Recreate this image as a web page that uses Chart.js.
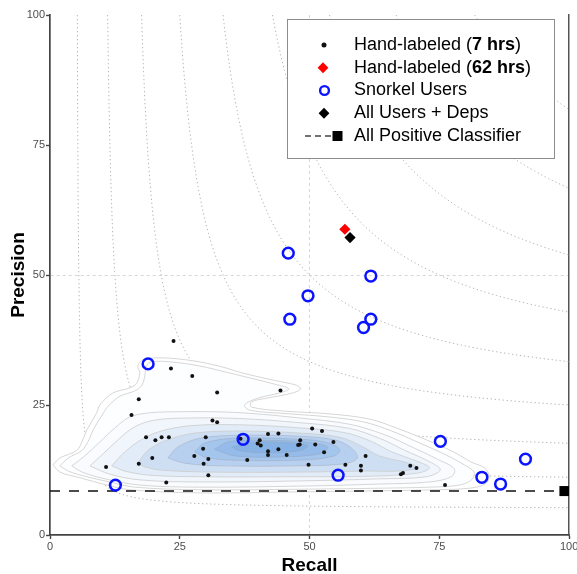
<!DOCTYPE html>
<html><head><meta charset="utf-8">
<script src="https://cdn.jsdelivr.net/npm/chart.js@4.4.1/dist/chart.umd.min.js"></script>
<style>html,body{margin:0;padding:0;background:#fff;}#wrap{width:577px;height:574px;}</style>
</head><body><div id="wrap"><canvas id="c" width="577" height="574"></canvas></div>
<script>
// ---- data (recall, precision) ----
const handLabeled7 = [[23.8,37.3],[23.3,32.0],[27.4,30.6],[17.1,26.1],[15.7,23.1],[32.2,27.4],[44.4,27.8],[31.3,22.0],[32.2,21.7],[18.5,18.8],[20.3,18.2],[21.5,18.8],[22.9,18.8],[30.0,18.8],[29.5,16.6],[27.8,15.2],[19.7,14.8],[30.5,14.6],[29.6,13.7],[17.1,13.7],[10.8,13.1],[30.5,11.5],[22.4,10.1],[36.7,18.5],[40.4,18.2],[40.0,17.6],[40.6,17.2],[42.0,19.4],[44.0,19.5],[42.0,16.1],[42.0,15.4],[44.0,16.5],[45.6,15.4],[38.0,14.4],[48.2,18.2],[48.1,17.4],[47.8,17.3],[50.5,20.5],[52.4,20.0],[51.1,17.4],[54.6,17.9],[52.8,15.9],[49.8,13.5],[56.9,13.5],[59.9,13.3],[59.9,12.4],[60.8,15.2],[69.4,13.3],[70.6,12.9],[68.0,11.9],[67.6,11.7],[76.1,9.6]];
const handLabeled62 = [[56.8,58.8]];
const snorkelUsers = [[45.9,54.2],[49.7,46.0],[46.2,41.5],[61.8,49.8],[61.8,41.5],[60.4,39.9],[18.9,32.9],[37.2,18.4],[75.2,18.0],[12.6,9.6],[55.5,11.5],[83.2,11.1],[86.8,9.8],[91.6,14.6]];
const allUsersDeps = [[57.8,57.2]];
const allPositiveRecall = 99.1;
const allPositivePrecision = 8.45;
const f1Levels = [10,20,30,40,50,60,70,80,90];
const xTicks = [0,25,50,75,100];
const yTicks = [0,25,50,75,100];
const legendLabels = [
  [['Hand-labeled (',false],['7 hrs',true],[')',false]],
  [['Hand-labeled (',false],['62 hrs',true],[')',false]],
  [['Snorkel Users',false]],
  [['All Users + Deps',false]],
  [['All Positive Classifier',false]]
];
// density contours of the hand-labeled points, outer to inner
const contour1 = [[0.6,13.5],[1.9,14.8],[5.2,16.3],[6.3,18.3],[7.1,20.2],[9.0,23.5],[9.6,25.0],[12.1,27.3],[15.4,28.3],[16.7,29.2],[17.3,31.2],[16.9,32.5],[17.9,33.7],[19.2,34.0],[23.1,34.0],[28.8,33.3],[34.0,32.1],[36.5,31.3],[42.9,29.8],[47.5,28.8],[48.3,28.1],[46.7,27.3],[41.7,26.3],[38.8,25.6],[38.8,24.6],[45.6,23.8],[53.8,23.3],[61.5,22.3],[66.7,20.6],[72.5,18.3],[77.7,16.0],[81.2,14.0],[83.7,12.9],[84.6,11.3],[83.8,9.8],[80.8,9.0],[74.4,8.7],[63.5,8.5],[48.1,8.3],[28.8,8.1],[15.4,8.7],[11.0,9.6],[5.8,11.0],[1.9,12.1],[0.6,13.5]];
const contour2 = [[1.9,13.3],[3.5,14.8],[6.2,16.3],[7.5,18.3],[8.3,20.2],[10.2,23.3],[11.2,24.8],[13.5,26.7],[16.3,27.7],[17.7,28.8],[18.3,30.8],[18.5,32.5],[19.6,33.3],[23.1,33.3],[28.8,32.5],[34.0,31.3],[38.5,30.2],[43.3,29.0],[46.0,28.1],[44.2,27.3],[40.0,26.3],[37.5,25.0],[38.5,24.0],[46.2,23.3],[53.8,22.7],[60.6,21.7],[65.8,20.0],[71.2,17.7],[76.3,15.4],[79.8,13.5],[81.7,12.1],[81.2,10.6],[78.8,9.6],[73.1,9.2],[63.5,9.0],[48.1,8.8],[28.8,8.7],[16.3,9.2],[11.5,10.2],[6.7,11.3],[3.5,12.3],[1.9,13.3]];
const contour3 = [[4.2,13.3],[6.7,15.2],[9.6,17.9],[12.5,20.6],[15.4,22.7],[19.2,23.5],[25.0,23.7],[31.7,23.7],[38.5,23.4],[48.1,22.5],[57.7,21.3],[64.4,19.3],[70.2,16.7],[75.0,14.4],[77.9,12.7],[77.3,11.2],[73.1,10.2],[63.5,9.8],[48.1,9.4],[28.8,9.2],[17.3,9.6],[10.6,10.8],[6.2,12.1],[4.2,13.3]];
const contour4 = [[7.7,13.3],[10.0,15.4],[13.1,18.3],[16.3,20.8],[20.2,22.1],[26.9,22.5],[36.5,22.4],[48.1,21.6],[57.7,20.5],[63.5,18.6],[68.3,16.3],[73.5,13.9],[75.2,12.5],[72.5,11.2],[63.5,10.8],[48.1,10.4],[28.8,10.2],[17.3,10.6],[11.5,11.7],[7.7,13.3]];
const contour5 = [[11.9,13.3],[13.8,15.4],[16.9,17.9],[20.8,19.8],[26.9,21.0],[36.5,21.2],[48.1,20.6],[56.7,19.7],[61.9,18.0],[65.8,16.0],[71.2,14.0],[73.1,12.9],[70.8,11.9],[61.5,11.3],[48.1,11.2],[28.8,11.2],[19.2,11.5],[14.4,12.3],[11.9,13.3]];
const contour6 = [[16.9,13.8],[18.8,16.2],[22.1,18.1],[27.9,19.6],[36.5,20.0],[48.1,19.6],[55.8,18.8],[60.0,17.1],[63.5,15.2],[69.2,13.8],[70.8,12.9],[67.3,12.3],[61.5,12.3],[48.1,12.1],[30.8,12.1],[21.2,12.5],[18.3,13.1],[16.9,13.8]];
const contour7 = [[22.7,14.8],[24.6,16.9],[28.8,18.6],[36.5,19.2],[48.1,19.0],[54.8,18.3],[58.1,16.7],[59.2,14.8],[56.7,13.7],[48.1,13.3],[32.7,13.3],[26.0,13.8],[22.7,14.8]];
const contour8 = [[27.9,16.0],[29.8,17.7],[35.6,18.6],[46.2,18.5],[52.9,17.9],[55.8,16.5],[54.8,15.2],[48.1,14.4],[34.6,14.4],[29.8,15.0],[27.9,16.0]];
const contour9 = [[31.7,16.5],[34.6,18.0],[42.3,18.2],[50.0,17.8],[53.5,16.9],[51.9,15.6],[44.2,15.0],[35.6,15.2],[31.7,16.5]];
const contour10 = [[35.0,16.9],[38.5,17.8],[45.2,17.8],[49.6,17.2],[48.1,16.2],[41.3,15.8],[36.5,16.2],[35.0,16.9]];
const densityContours = [contour1,contour2,contour3,contour4,contour5,contour6,contour7,contour8,contour9,contour10];

// ---- styles ----
const contourFills = ['#ffffff','#fdfeff','#f9fbfe','#f1f6fc','#e2ecf8','#cfdff3','#b8d0f0','#a4c5ec','#94bbea','#87b2e5'];
const FONT = '"Liberation Sans", Arial, Helvetica, sans-serif';
const toXY = a => a.map(([x,y]) => ({x, y}));

function f1Curve(F){
  const pts = [], n = 60;
  for (let i = 0; i <= n; i++) { const p = 100 - (100 - F) * i / n; pts.push({x: p * F / (2 * p - F), y: p}); }
  for (let i = 1; i <= n; i++) { const r = F + (100 - F) * i / n; pts.push({x: r, y: r * F / (2 * r - F)}); }
  return pts;
}

const datasets = [];
datasets.push({type:'scatter', data: toXY(allUsersDeps), pointStyle:'rectRot', pointRadius:5.6, backgroundColor:'#000', borderColor:'#000', borderWidth:0, order:0});
datasets.push({type:'scatter', data: toXY(handLabeled62), pointStyle:'rectRot', pointRadius:5.6, backgroundColor:'#ff0000', borderColor:'#ff0000', borderWidth:0, order:1});
datasets.push({type:'scatter', data: toXY(snorkelUsers), pointStyle:'circle', pointRadius:5.4, backgroundColor:'rgba(0,0,0,0)', borderColor:'#0a14ff', borderWidth:2.5, order:2});
datasets.push({type:'scatter', data: [{x: allPositiveRecall, y: allPositivePrecision}], pointStyle:'rect', pointRadius:7.1, backgroundColor:'#000', borderColor:'#000', borderWidth:0, order:3});
datasets.push({type:'scatter', data: toXY(handLabeled7), pointStyle:'circle', pointRadius:2, backgroundColor:'#111', borderColor:'#111', borderWidth:0, order:4});
datasets.push({type:'line', data: [{x: xTicks[0], y: allPositivePrecision}, {x: xTicks[xTicks.length-1], y: allPositivePrecision}], borderColor:'#111', borderWidth:1.5, borderDash:[10,9], pointRadius:0, fill:false, order:5});
densityContours.forEach((c, i) => {
  datasets.push({type:'line', data: toXY(c), borderColor: i < 6 ? '#cbcbcb' : 'rgba(150,160,175,0.5)', borderWidth:0.8, backgroundColor: contourFills[i], fill:'shape', tension:0.35, pointRadius:0, order: 40 - i});
});
f1Levels.forEach(F => {
  datasets.push({type:'line', data: f1Curve(F), borderColor:'rgba(160,160,160,0.8)', borderWidth:1, borderDash:[1.3,2.7], pointRadius:0, fill:false, tension:0, order:60});
});

const legendPlugin = {
  id: 'paperLegend',
  afterDraw(chart){
    const ctx = chart.ctx, a = chart.chartArea;
    const bx = a.left + 237, by = a.top + 4, bw = 267, bh = 139;
    ctx.save();
    ctx.fillStyle = '#fff';
    ctx.fillRect(bx, by, bw, bh);
    ctx.strokeStyle = '#8c8c8c'; ctx.lineWidth = 1;
    ctx.strokeRect(bx + 0.5, by + 0.5, bw, bh);
    const sx = bx + 37, tx = bx + 67;
    const rowY = i => by + 26 + i * 22.75;
    let y = rowY(0);
    ctx.fillStyle = '#111'; ctx.beginPath(); ctx.arc(sx, y, 2.5, 0, Math.PI*2); ctx.fill();
    const diamond = (x, y, r, col) => { ctx.fillStyle = col; ctx.beginPath(); ctx.moveTo(x, y - r); ctx.lineTo(x + r, y); ctx.lineTo(x, y + r); ctx.lineTo(x - r, y); ctx.closePath(); ctx.fill(); };
    diamond(sx - 1, rowY(1), 5.4, '#ff0000');
    ctx.strokeStyle = '#0a14ff'; ctx.lineWidth = 2.4; ctx.beginPath(); ctx.arc(sx + 0.5, rowY(2), 4.4, 0, Math.PI*2); ctx.stroke();
    diamond(sx, rowY(3), 5.4, '#000');
    y = rowY(4);
    ctx.strokeStyle = '#444'; ctx.lineWidth = 1.3; ctx.setLineDash([6,4]);
    ctx.beginPath(); ctx.moveTo(bx + 18, y); ctx.lineTo(bx + 44, y); ctx.stroke(); ctx.setLineDash([]);
    ctx.fillStyle = '#000'; ctx.fillRect(bx + 45.5, y - 5, 10, 10);
    ctx.textBaseline = 'middle'; ctx.textAlign = 'left'; ctx.fillStyle = '#000';
    legendLabels.forEach((parts, i) => {
      let x = tx;
      parts.forEach(([t, b]) => {
        ctx.font = (b ? 'bold ' : '') + '18px ' + FONT;
        ctx.fillText(t, x, rowY(i));
        x += ctx.measureText(t).width;
      });
    });
    ctx.restore();
  }
};

const gridColor = c => (c.tick && c.tick.value === 50) ? '#d6d6d6' : 'rgba(0,0,0,0)';

new Chart(document.getElementById('c'), {
  type: 'scatter',
  data: { datasets },
  options: {
    responsive: false, animation: false, events: [],
    layout: { padding: { top: 15, left: 0, right: 0, bottom: 0 } },
    plugins: { legend: { display: false }, tooltip: { enabled: false } },
    scales: {
      x: {
        type: 'linear', position: 'bottom', min: xTicks[0], max: xTicks[xTicks.length-1],
        afterBuildTicks: s => { s.ticks = xTicks.map(v => ({value: v})); },
        ticks: { color: '#4d4d4d', font: { family: FONT, size: 11 }, padding: 1, maxRotation: 0, autoSkip: false },
        grid: { color: gridColor, lineWidth: 1, tickColor: '#444', tickLength: 4, tickWidth: 1.4 },
        border: { display: true, color: '#444', width: 1.7, dash: [3,3] },
        title: { display: true, text: 'Recall', color: '#000', font: { family: FONT, size: 19, weight: 'bold', lineHeight: 1 }, padding: { top: 0, bottom: -1 } },
        afterFit: s => { s.height = 39; s.paddingLeft = 0; s.paddingRight = 0; }
      },
      y: {
        type: 'linear', position: 'left', min: yTicks[0], max: yTicks[yTicks.length-1],
        afterBuildTicks: s => { s.ticks = yTicks.map(v => ({value: v})); },
        ticks: { color: '#4d4d4d', font: { family: FONT, size: 11 }, padding: 1 },
        grid: { color: gridColor, lineWidth: 1, tickColor: '#444', tickLength: 4, tickWidth: 1.4 },
        border: { display: true, color: '#444', width: 1.7, dash: [3,3] },
        title: { display: true, text: 'Precision', color: '#000', font: { family: FONT, size: 19, weight: 'bold', lineHeight: 1 }, padding: { top: 9.5, bottom: 0 } },
        afterFit: s => { s.width = 50; }
      },
      y2: {
        type: 'linear', position: 'right', min: 0, max: 100,
        ticks: { display: false },
        grid: { display: false, drawTicks: false },
        border: { display: true, color: '#555', width: 1.5 },
        afterFit: s => { s.width = 7; }
      }
    }
  },
  plugins: [legendPlugin]
});
</script>
</body></html>
